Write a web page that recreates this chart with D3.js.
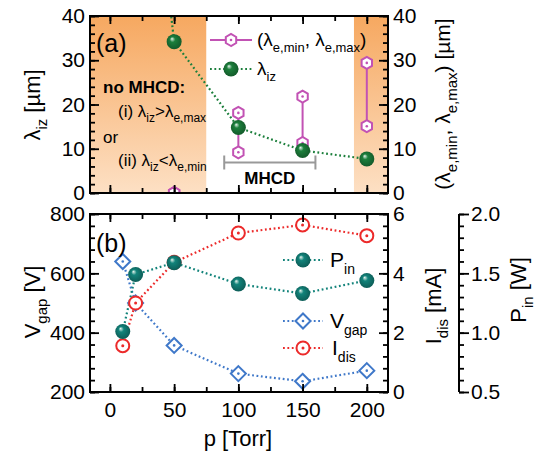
<!DOCTYPE html>
<html>
<head>
<meta charset="utf-8">
<script src="https://cdn.jsdelivr.net/npm/d3@7"></script>
<style>
  body { margin: 0; background: #fff; }
  text { font-family: "Liberation Sans", Arial, sans-serif; fill: #000; }
</style>
</head>
<body>
<div id="chart"></div>
<script>
// ---- data ----
// panel (a)
var pLambdaIz = [20, 50, 100, 150, 200];
var lambdaIz = [110, 34.2, 14.8, 9.6, 7.7];   // first point lies above the frame
var pLambdaE = [50, 100, 150, 200];
var lambdaEmin = [0, 9.2, 11.3, 15.1];
var lambdaEmax = [0, 18.1, 21.8, 29.4];
var noMhcdRanges = [[-16, 75], [190, 217]];
var mhcdRange = [89, 160];

// panel (b)
var pressure = [10, 20, 50, 100, 150, 200];
var vGap = [640, 500, 357, 262, 236, 272];
var iDis = [1.56, 3.0, 4.37, 5.36, 5.63, 5.27];
var pIn = [1.01, 1.49, 1.59, 1.41, 1.33, 1.44];

var xTicks = [0, 50, 100, 150, 200];

var W = 538, H = 453;
var left = 90, right = 388;
var topA = 16, botA = 193;
var topB = 214, botB = 392;

var colors = {
  green: "#1c7f3c",
  teal: "#12837a",
  blue: "#3f78c9",
  red: "#ec2a2a",
  magenta: "#c252b4",
  gray: "#999999"
};

var svg = d3.select("#chart").append("svg")
  .attr("width", W)
  .attr("height", H);

var defs = svg.append("defs");

var shade = defs.append("linearGradient")
  .attr("id", "shade")
  .attr("gradientUnits", "userSpaceOnUse")
  .attr("x1", 0).attr("y1", topA).attr("x2", 0).attr("y2", botA);
shade.append("stop").attr("offset", "0%").attr("stop-color", "#f6a860");
shade.append("stop").attr("offset", "100%").attr("stop-color", "#fde0c4");

function sphereGradient(id, color) {
  var g = defs.append("radialGradient")
    .attr("id", id)
    .attr("cx", "50%").attr("cy", "50%").attr("r", "60%")
    .attr("fx", "35%").attr("fy", "30%");
  g.append("stop").attr("offset", "0%").attr("stop-color", "#e8f5ee");
  g.append("stop").attr("offset", "30%").attr("stop-color", color);
  g.append("stop").attr("offset", "100%").attr("stop-color", d3.color(color).darker(1.2));
}
sphereGradient("ballGreen", colors.green);
sphereGradient("ballTeal", colors.teal);

defs.append("clipPath").attr("id", "clipA")
  .append("rect").attr("x", left).attr("y", topA).attr("width", right - left).attr("height", botA - topA);

// ---- scales ----
var x = d3.scaleLinear().domain([-15.5, 216.5]).range([left, right]);
var yA = d3.scaleLinear().domain([0, 40]).range([botA, topA]);
var yV = d3.scaleLinear().domain([200, 800]).range([botB, topB]);
var yI = d3.scaleLinear().domain([0, 6]).range([botB, topB]);
var yP = d3.scaleLinear().domain([0.5, 2.0]).range([botB, topB]);

// ---- helpers ----
// parts: [text, isSub]
function richText(g, parts, size, subSize, attrs) {
  var t = g.append("text").style("font-size", size + "px");
  Object.keys(attrs || {}).forEach(function(k) { t.attr(k, attrs[k]); });
  var shift = Math.round(size * 0.32);
  var down = false;
  parts.forEach(function(p) {
    var s = t.append("tspan").text(p[0]);
    if (p[1]) {
      s.style("font-size", subSize + "px");
      if (!down) { s.attr("dy", shift); down = true; }
    } else if (down) {
      s.attr("dy", -shift); down = false;
    }
  });
  return t;
}

function hexagon(g, cx, cy, r) {
  var pts = d3.range(6).map(function(i) {
    var a = Math.PI / 2 + i * Math.PI / 3;
    return [cx + r * Math.cos(a), cy + r * Math.sin(a)];
  });
  g.append("polygon").attr("points", pts.join(" "))
    .attr("fill", "#fff").attr("stroke", colors.magenta).attr("stroke-width", 2);
  g.append("circle").attr("cx", cx).attr("cy", cy).attr("r", 1.3).attr("fill", colors.magenta);
}

function ball(g, cx, cy, grad) {
  g.append("circle").attr("cx", cx).attr("cy", cy).attr("r", 7.5)
    .attr("fill", "url(#" + grad + ")");
}

function diamond(g, cx, cy) {
  var r = 7.5;
  g.append("polygon")
    .attr("points", [[cx, cy - r], [cx + r, cy], [cx, cy + r], [cx - r, cy]].join(" "))
    .attr("fill", "#fff").attr("stroke", colors.blue).attr("stroke-width", 2);
  g.append("circle").attr("cx", cx).attr("cy", cy).attr("r", 1.3).attr("fill", colors.blue);
}

function ring(g, cx, cy) {
  g.append("circle").attr("cx", cx).attr("cy", cy).attr("r", 6.5)
    .attr("fill", "#fff").attr("stroke", colors.red).attr("stroke-width", 2);
  g.append("circle").attr("cx", cx).attr("cy", cy).attr("r", 1.5).attr("fill", colors.red);
}

function dotted(g, pts, color) {
  g.append("path")
    .attr("d", d3.line()(pts))
    .attr("fill", "none")
    .attr("stroke", color)
    .attr("stroke-width", 2.2)
    .attr("stroke-dasharray", "1.8,2.6");
}

function axis(gen, tx, ty, labels, size) {
  var g = svg.append("g").attr("transform", "translate(" + tx + "," + ty + ")").call(gen);
  g.select(".domain").remove();
  g.selectAll(".tick line").attr("stroke", "#000").attr("stroke-width", 1.8);
  if (!labels) g.selectAll(".tick text").remove();
  else g.selectAll(".tick text").style("font-size", (size || 21) + "px").attr("fill", "#000")
    .style("font-family", "'Liberation Sans', Arial, sans-serif");
  return g;
}

function range(a, b, step) {
  return d3.range(0, Math.round((b - a) / step) + 1).map(function(i) { return +(a + i * step).toFixed(3); });
}

var intFmt = d3.format("d");

// ---- panel (a) ----
var gA = svg.append("g");
gA.selectAll("rect.shade").data(noMhcdRanges).enter().append("rect")
  .attr("class", "shade")
  .attr("x", function(d) { return Math.max(left, x(d[0])); })
  .attr("y", topA)
  .attr("width", function(d) { return Math.min(right, x(d[1])) - Math.max(left, x(d[0])); })
  .attr("height", botA - topA)
  .attr("fill", "url(#shade)");

// MHCD bracket
var yBr = yA(6.9);
gA.append("path")
  .attr("d", "M" + x(mhcdRange[0]) + "," + (yBr - 7) + "V" + (yBr + 7) +
    "M" + x(mhcdRange[0]) + "," + yBr + "H" + x(mhcdRange[1]) +
    "M" + x(mhcdRange[1]) + "," + (yBr - 7) + "V" + (yBr + 7))
  .attr("stroke", colors.gray).attr("stroke-width", 2).attr("fill", "none");
gA.append("text").attr("x", x((mhcdRange[0] + mhcdRange[1]) / 2)).attr("y", 184)
  .attr("text-anchor", "middle").style("font-size", "17px").style("font-weight", "bold")
  .text("MHCD");

// lambda_e bars
pLambdaE.forEach(function(p, i) {
  gA.append("line")
    .attr("x1", x(p)).attr("x2", x(p))
    .attr("y1", yA(lambdaEmin[i])).attr("y2", yA(lambdaEmax[i]))
    .attr("stroke", colors.magenta).attr("stroke-width", 2);
});

// lambda_iz line
var gClip = gA.append("g").attr("clip-path", "url(#clipA)");
dotted(gClip, pLambdaIz.map(function(p, i) { return [x(p), yA(lambdaIz[i])]; }), colors.green);

var gHex = gA.append("g").attr("clip-path", "url(#clipA)");
pLambdaE.forEach(function(p, i) {
  hexagon(gHex, x(p), yA(lambdaEmax[i]), 6);
  hexagon(gHex, x(p), yA(lambdaEmin[i]), 6);
});
pLambdaIz.forEach(function(p, i) {
  if (lambdaIz[i] <= 40) ball(gA, x(p), yA(lambdaIz[i]), "ballGreen");
});

// panel (a) texts
gA.append("text").attr("x", 96).attr("y", 52).style("font-size", "25px").text("(a)");
gA.append("text").attr("x", 103).attr("y", 93).style("font-size", "17px").style("font-weight", "bold")
  .text("no MHCD:");
richText(gA, [["(i) λ", 0], ["iz", 1], [">λ", 0], ["e,max", 1]], 17, 12, { x: 118, y: 117 });
gA.append("text").attr("x", 103).attr("y", 143).style("font-size", "17px").text("or");
richText(gA, [["(ii) λ", 0], ["iz", 1], ["<λ", 0], ["e,min", 1]], 17, 12, { x: 118, y: 166 });

// legend (a)
var lgA = svg.append("g");
lgA.append("line").attr("x1", 210).attr("x2", 252).attr("y1", 40).attr("y2", 40)
  .attr("stroke", colors.magenta).attr("stroke-width", 2);
hexagon(lgA, 231, 40, 6);
richText(lgA, [["(λ", 0], ["e,min", 1], [", λ", 0], ["e,max", 1], [")", 0]], 19, 13, { x: 257, y: 46 });
dotted(lgA, [[210, 69], [252, 69]], colors.green);
ball(lgA, 231, 69, "ballGreen");
richText(lgA, [["λ", 0], ["iz", 1]], 19, 13, { x: 257, y: 75 });

// frame (a)
svg.append("rect").attr("x", left).attr("y", topA).attr("width", right - left).attr("height", botA - topA)
  .attr("fill", "none").attr("stroke", "#000").attr("stroke-width", 2);

// axes (a)
axis(d3.axisLeft(yA).tickValues([0, 10, 20, 30, 40]).tickFormat(intFmt).tickSize(-9).tickPadding(5), left, 0, true);
axis(d3.axisLeft(yA).tickValues(range(0, 40, 2)).tickSize(-5).tickFormat(""), left, 0, false);
axis(d3.axisRight(yA).tickValues([0, 10, 20, 30, 40]).tickFormat(intFmt).tickSize(-9).tickPadding(5), right, 0, true);
axis(d3.axisRight(yA).tickValues(range(0, 40, 2)).tickSize(-5).tickFormat(""), right, 0, false);
axis(d3.axisTop(x).tickValues(xTicks).tickSize(-8).tickFormat(""), 0, topA, false);
axis(d3.axisTop(x).tickValues(range(0, 200, 25)).tickSize(-5).tickFormat(""), 0, topA, false);
axis(d3.axisBottom(x).tickValues(xTicks).tickSize(-8).tickFormat(""), 0, botA, false);
axis(d3.axisBottom(x).tickValues(range(0, 200, 25)).tickSize(-5).tickFormat(""), 0, botA, false);

richText(svg, [["λ", 0], ["iz", 1], [" [µm]", 0]], 22, 15,
  { transform: "translate(40,105) rotate(-90)", "text-anchor": "middle" });
richText(svg, [["(λ", 0], ["e,min", 1], [", λ", 0], ["e,max", 1], [") [µm]", 0]], 21, 15,
  { transform: "translate(450,104) rotate(-90)", "text-anchor": "middle" });

// ---- panel (b) ----
var gB = svg.append("g");
dotted(gB, pressure.map(function(p, i) { return [x(p), yV(vGap[i])]; }), colors.blue);
dotted(gB, pressure.map(function(p, i) { return [x(p), yI(iDis[i])]; }), colors.red);
dotted(gB, pressure.map(function(p, i) { return [x(p), yP(pIn[i])]; }), colors.teal);
pressure.forEach(function(p, i) { diamond(gB, x(p), yV(vGap[i])); });
pressure.forEach(function(p, i) { ring(gB, x(p), yI(iDis[i])); });
pressure.forEach(function(p, i) { ball(gB, x(p), yP(pIn[i]), "ballTeal"); });

gB.append("text").attr("x", 96).attr("y", 252).style("font-size", "25px").text("(b)");

// legend (b)
var lgB = svg.append("g");
dotted(lgB, [[283, 260], [323, 260]], colors.teal);
ball(lgB, 303, 260, "ballTeal");
richText(lgB, [["P", 0], ["in", 1]], 21, 14, { x: 330, y: 267 });
dotted(lgB, [[283, 321], [323, 321]], colors.blue);
diamond(lgB, 303, 321);
richText(lgB, [["V", 0], ["gap", 1]], 21, 14, { x: 330, y: 328 });
dotted(lgB, [[283, 348], [323, 348]], colors.red);
ring(lgB, 303, 348);
richText(lgB, [["I", 0], ["dis", 1]], 21, 14, { x: 332, y: 355 });

svg.append("rect").attr("x", left).attr("y", topB).attr("width", right - left).attr("height", botB - topB)
  .attr("fill", "none").attr("stroke", "#000").attr("stroke-width", 2);

axis(d3.axisLeft(yV).tickValues([200, 400, 600, 800]).tickFormat(intFmt).tickSize(-9).tickPadding(5), left, 0, true);
axis(d3.axisLeft(yV).tickValues(range(200, 800, 40)).tickSize(-5).tickFormat(""), left, 0, false);
axis(d3.axisRight(yI).tickValues([0, 2, 4, 6]).tickFormat(intFmt).tickSize(-9).tickPadding(5), right, 0, true);
axis(d3.axisRight(yI).tickValues(range(0, 6, 0.4)).tickSize(-5).tickFormat(""), right, 0, false);
axis(d3.axisTop(x).tickValues(xTicks).tickSize(-8).tickFormat(""), 0, topB, false);
axis(d3.axisTop(x).tickValues(range(0, 200, 25)).tickSize(-5).tickFormat(""), 0, topB, false);
axis(d3.axisBottom(x).tickValues(xTicks).tickFormat(intFmt).tickSize(-8).tickPadding(10), 0, botB, true);
axis(d3.axisBottom(x).tickValues(range(0, 200, 25)).tickSize(-5).tickFormat(""), 0, botB, false);

// offset P_in axis
var xP = 459;
svg.append("line").attr("x1", xP).attr("x2", xP).attr("y1", topB).attr("y2", botB)
  .attr("stroke", "#000").attr("stroke-width", 2);
axis(d3.axisRight(yP).tickValues([0.5, 1.0, 1.5, 2.0]).tickFormat(d3.format(".1f")).tickSize(10).tickPadding(2), xP, 0, true);
axis(d3.axisRight(yP).tickValues(range(0.5, 2.0, 0.1)).tickSize(5).tickFormat(""), xP, 0, false);

richText(svg, [["V", 0], ["gap", 1], [" [V]", 0]], 22, 15,
  { transform: "translate(40,302) rotate(-90)", "text-anchor": "middle" });
richText(svg, [["I", 0], ["dis", 1], [" [mA]", 0]], 22, 15,
  { transform: "translate(441,306) rotate(-90)", "text-anchor": "middle" });
richText(svg, [["P", 0], ["in", 1], [" [W]", 0]], 22, 15,
  { transform: "translate(526,290) rotate(-90)", "text-anchor": "middle" });
svg.append("text").attr("x", 238).attr("y", 446).attr("text-anchor", "middle")
  .style("font-size", "22px").text("p [Torr]");
</script>
</body>
</html>
